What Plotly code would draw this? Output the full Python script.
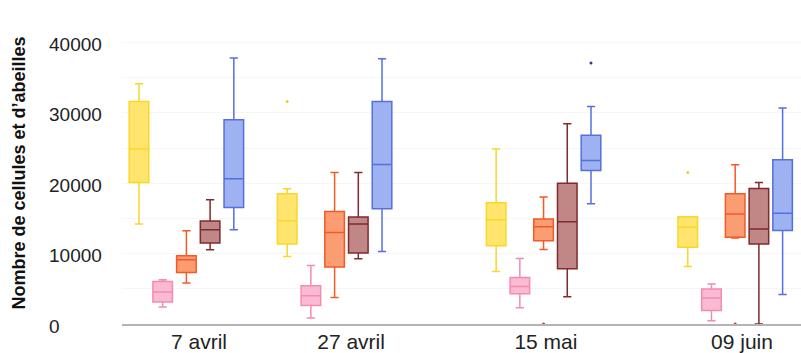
import plotly.graph_objects as go

# ---------------- data ----------------
dates = ["7 avril", "27 avril", "15 mai", "09 juin"]
series = ["S1", "S2", "S3", "S4", "S5"]

# per series: lists over the 4 dates
lower = {
    "S1": [14190, 9590, 7460, 8170],
    "S2": [2400, 840, 2300, 450],
    "S3": [5810, 3760, 10580, 12200],
    "S4": [10540, 9260, 3860, 0],
    "S5": [13380, 10300, 17070, 4190],
}
q1 = {
    "S1": [20100, 11350, 11110, 10920],
    "S2": [3110, 2630, 4290, 1920],
    "S3": [7320, 8080, 11820, 12340],
    "S4": [11490, 10070, 7840, 11350],
    "S5": [16550, 16360, 21800, 13280],
}
median = {
    "S1": [24845, 14660, 14800, 13760],
    "S2": [4530, 4010, 5330, 3680],
    "S3": [9120, 13000, 13810, 15610],
    "S4": [13380, 14190, 14520, 13480],
    "S5": [20630, 22660, 23230, 15750],
}
q3 = {
    "S1": [31610, 18500, 17220, 15230],
    "S2": [6040, 5430, 6610, 4960],
    "S3": [9690, 15980, 14900, 18500],
    "S4": [14620, 15190, 20010, 19250],
    "S5": [29010, 31610, 26830, 23320],
}
upper = {
    "S1": [34120, 19210, 24845, 15230],
    "S2": [6280, 8310, 9300, 5670],
    "S3": [13240, 21520, 18030, 22610],
    "S4": [17640, 21520, 28440, 20100],
    "S5": [37770, 37670, 30900, 30670],
}
# outliers: (date index, value)
outliers = {
    "S1": [(1, 31610), (3, 21520)],
    "S2": [],
    "S3": [(2, 0), (3, 0)],
    "S4": [],
    "S5": [(2, 37060)],
}
y_ticks = [0, 10000, 20000, 30000, 40000]

# ---------------- layout helpers ----------------
group_pos = [0.0, 1.0, 2.41, 3.703]      # centre of each date group on the x axis
label_pos = [0.085, 1.111, 2.426, 3.749]  # where the date labels sit
offset = 0.16
box_w = 0.132

line_colors = {
    "S1": "rgb(250,214,40)",
    "S2": "rgb(244,140,176)",
    "S3": "rgb(246,88,38)",
    "S4": "rgb(128,42,44)",
    "S5": "rgb(84,112,222)",
}
fill_colors = {
    "S1": "rgba(255,224,90,0.88)",
    "S2": "rgba(250,178,205,0.9)",
    "S3": "rgba(250,146,100,0.9)",
    "S4": "rgba(186,122,122,0.9)",
    "S5": "rgba(148,168,240,0.9)",
}
out_colors = {
    "S1": "rgb(240,205,40)",
    "S2": "rgb(244,140,176)",
    "S3": "rgb(190,60,40)",
    "S4": "rgb(128,42,44)",
    "S5": "rgb(40,60,140)",
}

fig = go.Figure()
for k, s in enumerate(series):
    xs = [p + (k - 2) * offset for p in group_pos]
    fig.add_trace(go.Box(
        x=xs,
        q1=q1[s], median=median[s], q3=q3[s],
        lowerfence=lower[s], upperfence=upper[s],
        width=box_w,
        whiskerwidth=0.42,
        fillcolor=fill_colors[s],
        line=dict(color=line_colors[s], width=1.5),
        boxpoints=False,
        showlegend=False,
        hoverinfo="skip",
    ))
    if outliers[s]:
        fig.add_trace(go.Scatter(
            x=[group_pos[i] + (k - 2) * offset for i, _ in outliers[s]],
            y=[v for _, v in outliers[s]],
            mode="markers",
            marker=dict(size=3, color=out_colors[s]),
            showlegend=False,
            cliponaxis=False,
            hoverinfo="skip",
        ))

L, R, T, B = 122, 0, 22, 29
W, H = 801, 353
pw = W - L - R

for v in y_ticks:
    fig.add_annotation(
        x=(47 - L) / pw, xref="paper", xanchor="left",
        y=v, yref="y", yanchor="middle", yshift=-2,
        text=f"{v}", showarrow=False,
        font=dict(family="Liberation Sans, Arial", size=19, color="#222222"),
    )

fig.add_annotation(
    x=(18.5 - L) / pw, xref="paper", xanchor="center",
    y=0.5, yref="paper", yanchor="middle",
    text="<b>Nombre de cellules et d’abeilles</b>", textangle=-90,
    showarrow=False,
    font=dict(family="Liberation Sans, Arial", size=18, color="#111111"),
)

fig.update_layout(
    width=W, height=H,
    margin=dict(l=L, r=R, t=T, b=B),
    plot_bgcolor="white", paper_bgcolor="white",
    template="none",
    showlegend=False,
)
fig.update_xaxes(
    range=[(L - 186.4) / 148.2, (W - 186.4) / 148.2],
    tickmode="array", tickvals=label_pos, ticktext=dates,
    showgrid=False, zeroline=False,
    showline=True, linecolor="#b4b4b4", linewidth=1.5,
    ticks="", ticklabelstandoff=-2,
    tickfont=dict(family="Liberation Sans, Arial", size=21, color="#222222"),
    automargin=False,
)
fig.update_yaxes(
    range=[0, 42900],
    tickmode="linear", dtick=5000, tick0=0,
    showticklabels=False,
    showgrid=True, gridcolor="rgb(246,246,246)", gridwidth=1,
    zeroline=False, showline=False, ticks="",
    automargin=False,
)

fig.write_html(
    "out.html",
    config={"displayModeBar": False},
    post_script="document.body.style.margin='0';document.body.style.overflow='hidden';",
)
